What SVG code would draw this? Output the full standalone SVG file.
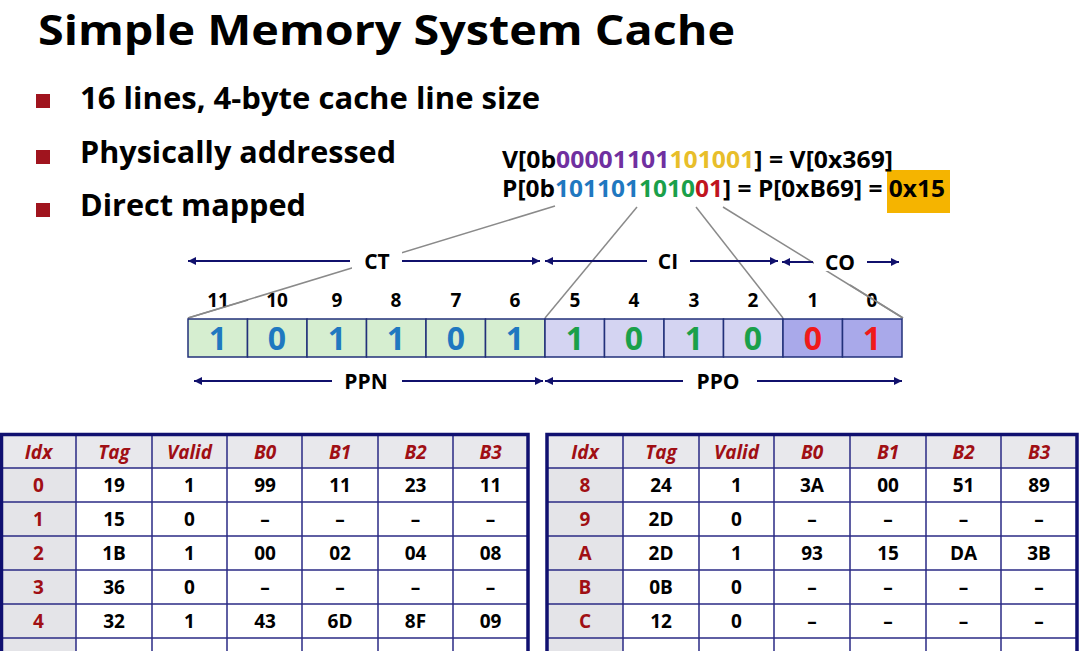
<svg xmlns="http://www.w3.org/2000/svg" width="1080" height="651" viewBox="0 0 1080 651">
<defs>
<style>
text{font-family:"Open Sans","Noto Sans","Liberation Sans",sans-serif;font-weight:bold;}
.title{font-size:42px;fill:#000;}
.bul{font-size:31px;fill:#000;}
.addr{font-size:23px;fill:#000;}
.bitn{font-size:19px;fill:#000;text-anchor:middle;}
.bitv{font-size:32px;text-anchor:middle;}
.fld{font-size:21px;fill:#000;text-anchor:middle;}
.hd{font-size:19px;fill:#A00F14;font-style:italic;text-anchor:middle;}
.ix{font-size:19px;fill:#A00F14;text-anchor:middle;}
.d{font-size:19px;fill:#000;text-anchor:middle;}
.arr{stroke:#10106C;stroke-width:2;fill:none;}
.gl{stroke:#8A8A8A;stroke-width:1.5;fill:none;}
.cell{stroke:#22307A;stroke-width:1.5;}
.tl{stroke:#2A2A85;stroke-width:1.5;}
.tb{stroke:#101070;stroke-width:3.5;fill:none;}
</style>
<marker id="ah" viewBox="0 0 10 10" refX="10" refY="5" markerWidth="10" markerHeight="8" markerUnits="userSpaceOnUse" orient="auto-start-reverse">
<path d="M0,0 L10,5 L0,10 z" fill="#10106C"/>
</marker>
</defs>
<rect width="1080" height="651" fill="#fff"/>
<g id="title"><text class="title" x="38" y="45" textLength="697" lengthAdjust="spacingAndGlyphs">Simple Memory System Cache</text></g>
<g id="bullets">
<rect x="36" y="94" width="14" height="14" fill="#A0141E"/>
<text class="bul" x="80" y="109" textLength="460" lengthAdjust="spacingAndGlyphs">16 lines, 4-byte cache line size</text>
<rect x="36" y="150" width="14" height="14" fill="#A0141E"/>
<text class="bul" x="80" y="163" textLength="316" lengthAdjust="spacingAndGlyphs">Physically addressed</text>
<rect x="36" y="203" width="14" height="14" fill="#A0141E"/>
<text class="bul" x="80" y="216" textLength="226" lengthAdjust="spacingAndGlyphs">Direct mapped</text>
</g>
<g id="address">
<rect x="887" y="170" width="63" height="43" fill="#F5B400"/>
<text class="addr" x="502" y="168" textLength="391" lengthAdjust="spacingAndGlyphs">V[0b<tspan fill="#7030A0">00001101</tspan><tspan fill="#E8BE2A">101001</tspan>] = V[0x369]</text>
<text class="addr" x="502" y="197" textLength="443" lengthAdjust="spacingAndGlyphs">P[0b<tspan fill="#1F78C0">101101</tspan><tspan fill="#1AA04A">1010</tspan><tspan fill="#C0141E">01</tspan>] = P[0xB69] = 0x15</text>
</g>
<g id="connectors">
<line class="gl" x1="555" y1="206" x2="188" y2="318"/>
<line class="gl" x1="637" y1="207" x2="545" y2="318"/>
<line class="gl" x1="696" y1="207" x2="783" y2="318"/>
<line class="gl" x1="723" y1="207" x2="903" y2="318"/>
</g>
<g id="bitnums">
<text class="bitn" x="218" y="307">11</text>
<text class="bitn" x="277" y="307">10</text>
<text class="bitn" x="337" y="307">9</text>
<text class="bitn" x="396" y="307">8</text>
<text class="bitn" x="456" y="307">7</text>
<text class="bitn" x="515" y="307">6</text>
<text class="bitn" x="575" y="307">5</text>
<text class="bitn" x="634" y="307">4</text>
<text class="bitn" x="694" y="307">3</text>
<text class="bitn" x="753" y="307">2</text>
<text class="bitn" x="813" y="307">1</text>
<text class="bitn" x="872" y="307">0</text>
</g>
<g id="connectors-over">
<line class="gl" x1="248" y1="300" x2="188" y2="318"/>
<line class="gl" x1="850" y1="285" x2="903" y2="318"/>
</g>
<g id="bits">
<rect class="cell" x="188" y="319" width="59.5" height="38" fill="#D6EED0"/>
<rect class="cell" x="247.5" y="319" width="59.5" height="38" fill="#D6EED0"/>
<rect class="cell" x="307" y="319" width="59.5" height="38" fill="#D6EED0"/>
<rect class="cell" x="366.5" y="319" width="59.5" height="38" fill="#D6EED0"/>
<rect class="cell" x="426" y="319" width="59.5" height="38" fill="#D6EED0"/>
<rect class="cell" x="485.5" y="319" width="59.5" height="38" fill="#D6EED0"/>
<rect class="cell" x="545" y="319" width="59.5" height="38" fill="#D4D4F2"/>
<rect class="cell" x="604.5" y="319" width="59.5" height="38" fill="#D4D4F2"/>
<rect class="cell" x="664" y="319" width="59.5" height="38" fill="#D4D4F2"/>
<rect class="cell" x="723.5" y="319" width="59.5" height="38" fill="#D4D4F2"/>
<rect class="cell" x="783" y="319" width="59.5" height="38" fill="#A9A9EA"/>
<rect class="cell" x="842.5" y="319" width="59.5" height="38" fill="#A9A9EA"/>
<text class="bitv" x="218" y="350" fill="#1F78C0">1</text>
<text class="bitv" x="277" y="350" fill="#1F78C0">0</text>
<text class="bitv" x="337" y="350" fill="#1F78C0">1</text>
<text class="bitv" x="396" y="350" fill="#1F78C0">1</text>
<text class="bitv" x="456" y="350" fill="#1F78C0">0</text>
<text class="bitv" x="515" y="350" fill="#1F78C0">1</text>
<text class="bitv" x="575" y="350" fill="#1AA04A" font-weight="normal">1</text>
<text class="bitv" x="634" y="350" fill="#1AA04A" font-weight="normal">0</text>
<text class="bitv" x="694" y="350" fill="#1AA04A" font-weight="normal">1</text>
<text class="bitv" x="753" y="350" fill="#1AA04A" font-weight="normal">0</text>
<text class="bitv" x="813" y="350" fill="#F01A1A" font-weight="normal">0</text>
<text class="bitv" x="872" y="350" fill="#F01A1A" font-weight="normal">1</text>
</g>
<g id="fields">
<rect x="352" y="251" width="50" height="20" fill="#fff"/>
<rect x="814" y="251" width="52" height="20" fill="#fff"/>
<line class="arr" x1="350" y1="261" x2="188" y2="261" marker-end="url(#ah)"/>
<line class="arr" x1="402" y1="261" x2="540" y2="261" marker-end="url(#ah)"/>
<text class="fld" x="377" y="269">CT</text>
<line class="arr" x1="647" y1="261" x2="545" y2="261" marker-end="url(#ah)"/>
<line class="arr" x1="690" y1="261" x2="778" y2="261" marker-end="url(#ah)"/>
<text class="fld" x="668" y="269">CI</text>
<line class="arr" x1="813" y1="262" x2="782" y2="262" marker-end="url(#ah)"/>
<line class="arr" x1="867" y1="262" x2="899" y2="262" marker-end="url(#ah)"/>
<text class="fld" x="840" y="270">CO</text>
<line class="arr" x1="332" y1="381" x2="194" y2="381" marker-end="url(#ah)"/>
<line class="arr" x1="402" y1="381" x2="543" y2="381" marker-end="url(#ah)"/>
<text class="fld" x="366" y="389">PPN</text>
<line class="arr" x1="683" y1="381" x2="545" y2="381" marker-end="url(#ah)"/>
<line class="arr" x1="757" y1="381" x2="902" y2="381" marker-end="url(#ah)"/>
<text class="fld" x="718" y="389">PPO</text>
</g>
<g id="table-left">
<rect x="1.5" y="435" width="527" height="33" fill="#E8E8EC"/>
<rect x="1.5" y="468" width="74.5" height="190" fill="#E4E4E8"/>
<g class="tl">
<line x1="1" y1="468" x2="528" y2="468"/><line x1="1" y1="502" x2="528" y2="502"/><line x1="1" y1="536" x2="528" y2="536"/><line x1="1" y1="570" x2="528" y2="570"/><line x1="1" y1="604" x2="528" y2="604"/><line x1="1" y1="638" x2="528" y2="638"/>
<line x1="76" y1="435" x2="76" y2="651"/><line x1="152" y1="435" x2="152" y2="651"/><line x1="227" y1="435" x2="227" y2="651"/><line x1="302" y1="435" x2="302" y2="651"/><line x1="378" y1="435" x2="378" y2="651"/><line x1="453" y1="435" x2="453" y2="651"/>
</g>
<path class="tb" d="M1.5,660 L1.5,434.5 L528,434.5 L528,660"/>
<text class="hd" x="38.5" y="459">Idx</text><text class="hd" x="114" y="459">Tag</text><text class="hd" x="189.5" y="459">Valid</text><text class="hd" x="265" y="459">B0</text><text class="hd" x="340" y="459">B1</text><text class="hd" x="415.5" y="459">B2</text><text class="hd" x="490.5" y="459">B3</text>
<text class="ix" x="38.5" y="492">0</text><text class="d" x="114" y="492">19</text><text class="d" x="189.5" y="492">1</text><text class="d" x="265" y="492">99</text><text class="d" x="340" y="492">11</text><text class="d" x="415.5" y="492">23</text><text class="d" x="490.5" y="492">11</text>
<text class="ix" x="38.5" y="526">1</text><text class="d" x="114" y="526">15</text><text class="d" x="189.5" y="526">0</text><text class="d" x="265" y="526">–</text><text class="d" x="340" y="526">–</text><text class="d" x="415.5" y="526">–</text><text class="d" x="490.5" y="526">–</text>
<text class="ix" x="38.5" y="560">2</text><text class="d" x="114" y="560">1B</text><text class="d" x="189.5" y="560">1</text><text class="d" x="265" y="560">00</text><text class="d" x="340" y="560">02</text><text class="d" x="415.5" y="560">04</text><text class="d" x="490.5" y="560">08</text>
<text class="ix" x="38.5" y="594">3</text><text class="d" x="114" y="594">36</text><text class="d" x="189.5" y="594">0</text><text class="d" x="265" y="594">–</text><text class="d" x="340" y="594">–</text><text class="d" x="415.5" y="594">–</text><text class="d" x="490.5" y="594">–</text>
<text class="ix" x="38.5" y="628">4</text><text class="d" x="114" y="628">32</text><text class="d" x="189.5" y="628">1</text><text class="d" x="265" y="628">43</text><text class="d" x="340" y="628">6D</text><text class="d" x="415.5" y="628">8F</text><text class="d" x="490.5" y="628">09</text>
</g>
<g id="table-right">
<rect x="547" y="435" width="530" height="33" fill="#E8E8EC"/>
<rect x="547" y="468" width="76" height="190" fill="#E4E4E8"/>
<g class="tl">
<line x1="547" y1="468" x2="1077" y2="468"/><line x1="547" y1="502" x2="1077" y2="502"/><line x1="547" y1="536" x2="1077" y2="536"/><line x1="547" y1="570" x2="1077" y2="570"/><line x1="547" y1="604" x2="1077" y2="604"/><line x1="547" y1="638" x2="1077" y2="638"/>
<line x1="623" y1="435" x2="623" y2="651"/><line x1="699" y1="435" x2="699" y2="651"/><line x1="774" y1="435" x2="774" y2="651"/><line x1="850" y1="435" x2="850" y2="651"/><line x1="926" y1="435" x2="926" y2="651"/><line x1="1001" y1="435" x2="1001" y2="651"/>
</g>
<path class="tb" d="M547,660 L547,434.5 L1077,434.5 L1077,660"/>
<text class="hd" x="585" y="459">Idx</text><text class="hd" x="661" y="459">Tag</text><text class="hd" x="736.5" y="459">Valid</text><text class="hd" x="812" y="459">B0</text><text class="hd" x="888" y="459">B1</text><text class="hd" x="963.5" y="459">B2</text><text class="hd" x="1039" y="459">B3</text>
<text class="ix" x="585" y="492">8</text><text class="d" x="661" y="492">24</text><text class="d" x="736.5" y="492">1</text><text class="d" x="812" y="492">3A</text><text class="d" x="888" y="492">00</text><text class="d" x="963.5" y="492">51</text><text class="d" x="1039" y="492">89</text>
<text class="ix" x="585" y="526">9</text><text class="d" x="661" y="526">2D</text><text class="d" x="736.5" y="526">0</text><text class="d" x="812" y="526">–</text><text class="d" x="888" y="526">–</text><text class="d" x="963.5" y="526">–</text><text class="d" x="1039" y="526">–</text>
<text class="ix" x="585" y="560">A</text><text class="d" x="661" y="560">2D</text><text class="d" x="736.5" y="560">1</text><text class="d" x="812" y="560">93</text><text class="d" x="888" y="560">15</text><text class="d" x="963.5" y="560">DA</text><text class="d" x="1039" y="560">3B</text>
<text class="ix" x="585" y="594">B</text><text class="d" x="661" y="594">0B</text><text class="d" x="736.5" y="594">0</text><text class="d" x="812" y="594">–</text><text class="d" x="888" y="594">–</text><text class="d" x="963.5" y="594">–</text><text class="d" x="1039" y="594">–</text>
<text class="ix" x="585" y="628">C</text><text class="d" x="661" y="628">12</text><text class="d" x="736.5" y="628">0</text><text class="d" x="812" y="628">–</text><text class="d" x="888" y="628">–</text><text class="d" x="963.5" y="628">–</text><text class="d" x="1039" y="628">–</text>
</g>
</svg>
